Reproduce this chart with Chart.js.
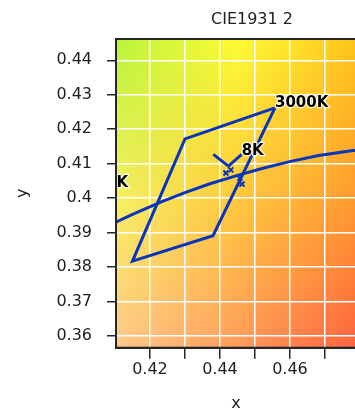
<!DOCTYPE html>
<html><head><meta charset="utf-8">
<script src="https://cdn.jsdelivr.net/npm/chart.js@4.4.0/dist/chart.umd.min.js"></script>
<style>
html,body{margin:0;padding:0;background:#fff;overflow:hidden;width:355px;height:413px}
#wrap{position:absolute;left:0;top:0;width:504px;height:413px}
</style>
</head><body><div id="wrap"><canvas id="c" width="504" height="413"></canvas></div>
<script>
// ---- data ----
const chartTitle = 'CIE1931 2';
const xAxisTitle = 'x';
const yAxisTitle = 'y';
const xTicks = [0.42, 0.43, 0.44, 0.45, 0.46, 0.47];
const xTickLabels = ['0.42', '', '0.44', '', '0.46', ''];
const yTicks = [0.36, 0.37, 0.38, 0.39, 0.40, 0.41, 0.42, 0.43, 0.44];
const yTickLabels = ['0.36', '0.37', '0.38', '0.39', '0.4', '0.41', '0.42', '0.43', '0.44'];
const xRange = [0.41029, 0.47886];
const yRange = [0.35660, 0.44618];

// 3000K quadrangle
const quadX = [0.4557, 0.4300, 0.4150, 0.4380, 0.4557];
const quadY = [0.4262, 0.4172, 0.3817, 0.3891, 0.4262];
// Planckian locus
const locusX = [0.4050, 0.4150, 0.4234, 0.4300, 0.4369, 0.4450, 0.4520, 0.4599, 0.4682, 0.4770, 0.4860];
const locusY = [0.3905, 0.3953, 0.3990, 0.4016, 0.4041, 0.4066, 0.4086, 0.4106, 0.4124, 0.4137, 0.4147];
// V-shaped marker near 3000K
const markX = [0.4381, 0.4424, 0.4462];
const markY = [0.4127, 0.4093, 0.4127];
// small cross marks
const crossX = [0.4417, 0.4431, 0.4457, 0.4463];
const crossY = [0.4073, 0.4082, 0.4058, 0.4041];
// text labels
const labelText = ['3000K', '3500K', '8K'];
const labelX = [0.4557, 0.3985, 0.4462];
const labelY = [0.4262, 0.4030, 0.4122];

// ---- styling ----
const lineColor = '#0a34bc';
const darkColor = '#262626';
const fontFamily = "'DejaVu Sans', sans-serif";
const bgCols = [0, 0.5, 1];
const bgRows = [0, 0.52, 1];
const bgColors = [
  [[184,244,60],[252,252,52],[255,196,28]],
  [[246,240,98],[255,200,62],[255,154,48]],
  [[255,200,138],[255,156,92],[255,100,64]]
];

function toPts(xs, ys){ return xs.map((x,i)=>({x:x, y:ys[i]})); }

function interp1(arr, t){
  let i = 0;
  while (i < arr.length - 2 && t > arr[i+1]) i++;
  const f = Math.min(1, Math.max(0, (t - arr[i]) / (arr[i+1] - arr[i])));
  return [i, f];
}

const bgPlugin = {
  id: 'bg',
  beforeDraw(chart){
    const a = chart.chartArea;
    const ctx = chart.ctx;
    const L = Math.round(a.left), T = Math.round(a.top);
    const w = Math.round(a.right) - L, h = Math.round(a.bottom) - T;
    const img = ctx.createImageData(w, h);
    for (let py = 0; py < h; py++){
      const [r, fr] = interp1(bgRows, py/(h-1));
      for (let px = 0; px < w; px++){
        const [c, fc] = interp1(bgCols, px/(w-1));
        const k = (py*w + px)*4;
        for (let ch = 0; ch < 3; ch++){
          const top = bgColors[r][c][ch]*(1-fc) + bgColors[r][c+1][ch]*fc;
          const bot = bgColors[r+1][c][ch]*(1-fc) + bgColors[r+1][c+1][ch]*fc;
          img.data[k+ch] = top*(1-fr) + bot*fr;
        }
        img.data[k+3] = 255;
      }
    }
    ctx.putImageData(img, L, T);
  }
};

const labelPlugin = {
  id: 'labels',
  afterDatasetsDraw(chart){
    const a = chart.chartArea, ctx = chart.ctx;
    const xs = chart.scales.x, ys = chart.scales.y;
    ctx.save();
    ctx.beginPath();
    ctx.rect(a.left, a.top, a.right - a.left, a.bottom - a.top);
    ctx.clip();
    ctx.font = "bold 15px " + fontFamily;
    ctx.textAlign = 'left';
    ctx.textBaseline = 'alphabetic';
    ctx.lineJoin = 'round';
    labelText.forEach((t, i) => {
      const px = xs.getPixelForValue(labelX[i]);
      const py = ys.getPixelForValue(labelY[i]) - 1;
      ctx.lineWidth = 2.5;
      ctx.strokeStyle = 'rgba(255,255,255,0.9)';
      ctx.strokeText(t, px, py);
      ctx.fillStyle = '#000';
      ctx.fillText(t, px, py);
    });
    ctx.restore();
  }
};

const framePlugin = {
  id: 'frame',
  afterDraw(chart){
    const a = chart.chartArea, ctx = chart.ctx;
    ctx.save();
    ctx.strokeStyle = darkColor;
    ctx.lineWidth = 2;
    ctx.strokeRect(a.left, a.top, a.right - a.left, a.bottom - a.top);
    ctx.restore();
  }
};

const lineDs = (label, xs, ys) => ({
  label, data: toPts(xs, ys), showLine: true, borderColor: lineColor,
  borderWidth: 3, pointRadius: 0, fill: false, tension: 0, clip: 0
});

new Chart(document.getElementById('c'), {
  type: 'scatter',
  data: {
    datasets: [
      lineDs('locus', locusX, locusY),
      lineDs('3000K', quadX, quadY),
      lineDs('mark', markX, markY),
      {label: 'cross', data: toPts(crossX, crossY), showLine: false, pointStyle: 'crossRot',
       pointRadius: 3.5, borderColor: lineColor, borderWidth: 2, backgroundColor: lineColor, clip: 0}
    ]
  },
  options: {
    responsive: false,
    animation: false,
    devicePixelRatio: 1,
    layout: {padding: 0},
    plugins: {
      legend: {display: false},
      tooltip: {enabled: false},
      title: {display: true, text: chartTitle, color: '#222',
        font: {family: fontFamily, size: 16, weight: 'normal'},
        padding: {top: 10, bottom: 9.8}}
    },
    scales: {
      x: {
        type: 'linear', min: xRange[0], max: xRange[1],
        afterBuildTicks: s => { s.ticks = xTicks.map(v => ({value: v})); },
        afterFit: s => { s.height = 65.3; },
        ticks: {autoSkip: false, maxRotation: 0, padding: 2, color: '#1e1e1e',
          font: {family: fontFamily, size: 16},
          callback: (v, i) => xTickLabels[i]},
        grid: {color: '#ffffff', lineWidth: 1.5, tickColor: darkColor, tickLength: 11, tickWidth: 1.5},
        border: {display: true, color: darkColor, width: 2},
        title: {display: true, text: xAxisTitle, color: '#222',
          font: {family: fontFamily, size: 16}, padding: {top: 0, bottom: 0}}
      },
      y: {
        type: 'linear', min: yRange[0], max: yRange[1],
        afterBuildTicks: s => { s.ticks = yTicks.map(v => ({value: v})); },
        afterFit: s => { s.width = 116; },
        ticks: {autoSkip: false, padding: 15, color: '#1e1e1e',
          font: {family: fontFamily, size: 16},
          callback: (v, i) => yTickLabels[i]},
        grid: {color: '#ffffff', lineWidth: 1.5, tickColor: darkColor, tickLength: 9, tickWidth: 1.5},
        border: {display: true, color: darkColor, width: 2},
        title: {display: true, text: yAxisTitle, color: '#222',
          font: {family: fontFamily, size: 16}, padding: {top: 13, bottom: 0}}
      },
      yRightSpace: {
        type: 'linear', position: 'right', min: yRange[0], max: yRange[1],
        afterFit: s => { s.width = 148; },
        ticks: {display: false},
        grid: {display: false, drawOnChartArea: false},
        border: {display: false},
        title: {display: false}
      }
    }
  },
  plugins: [bgPlugin, labelPlugin, framePlugin]
});
</script>
</body></html>
